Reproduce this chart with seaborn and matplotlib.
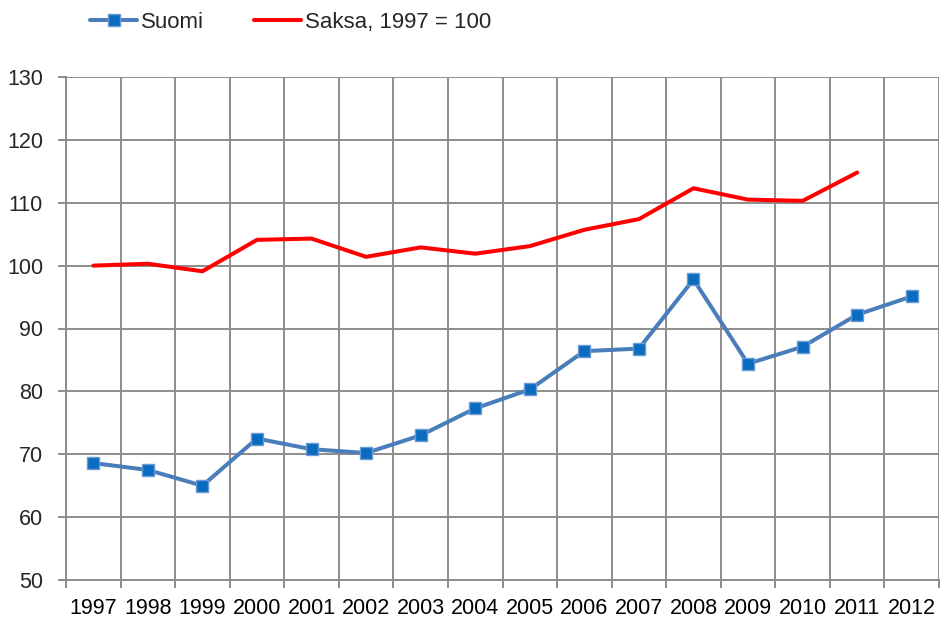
import numpy as np
import pandas as pd
import matplotlib
matplotlib.use("Agg")
import matplotlib.pyplot as plt
import seaborn as sns
from matplotlib.ticker import FixedLocator

# Data
years = [str(y) for y in range(1997, 2013)]
suomi = [68.6, 67.5, 65.0, 72.5, 70.8, 70.2, 73.0, 77.3, 80.3, 86.4, 86.8, 97.8, 84.4, 87.1, 92.2, 95.1]
saksa = [100.0, 100.3, 99.1, 104.1, 104.3, 101.4, 102.9, 101.9, 103.1, 105.7, 107.4, 112.3, 110.5, 110.3, 114.8]

sns.set_theme(style="white")
plt.rcParams['font.family'] = ['Liberation Sans', 'DejaVu Sans']

df_suomi = pd.DataFrame({'x': np.arange(len(suomi)), 'v': suomi})
df_saksa = pd.DataFrame({'x': np.arange(len(saksa)), 'v': saksa})

fig = plt.figure(figsize=(9.41, 6.21), dpi=100)
ax = fig.add_axes([66 / 941, 41 / 621, 873 / 941, 503 / 621])

grid_col = '#8c8c8c'

sns.lineplot(data=df_saksa, x='x', y='v', ax=ax, color='#ff0000', linewidth=2.9,
             label='Saksa, 1997 = 100', zorder=3)
sns.lineplot(data=df_suomi, x='x', y='v', ax=ax, color='#4a7ebb', linewidth=2.9,
             marker='s', markersize=8.5, markerfacecolor='#0a6cbf',
             markeredgecolor='#6a9ad6', markeredgewidth=1.0,
             label='Suomi', zorder=4)

ax.set_xlim(-0.5, len(years) - 0.5)
ax.set_ylim(50, 130)
ax.set_xlabel('')
ax.set_ylabel('')

ax.set_xticks(np.arange(len(years)))
ax.set_xticklabels(years)
ax.xaxis.set_minor_locator(FixedLocator(np.arange(-0.5, len(years), 1.0)))
ax.set_yticks(np.arange(50, 131, 10))

ax.tick_params(axis='x', which='major', length=0, labelsize=15.5, pad=13, colors='black')
ax.tick_params(axis='x', which='minor', length=6, width=1.4, color=grid_col, direction='out', bottom=True)
ax.tick_params(axis='y', which='major', length=6, width=1.4, color=grid_col, labelsize=15.5, pad=10.5, left=True)

ax.grid(True, which='minor', axis='x', color=grid_col, linewidth=1.4)
ax.grid(True, which='major', axis='y', color=grid_col, linewidth=1.4)
ax.set_axisbelow(True)

for s in ['top', 'right']:
    ax.spines[s].set_visible(False)
for s in ['left', 'bottom']:
    ax.spines[s].set_color(grid_col)
    ax.spines[s].set_linewidth(1.4)

handles, labels = ax.get_legend_handles_labels()
ax.legend().remove()
order = [1, 0]
fig.legend([handles[i] for i in order], [labels[i] for i in order],
           loc='upper left', bbox_to_anchor=(78 / 941, 1.0), ncol=2, frameon=False,
           fontsize=16, handlelength=2.1, handletextpad=0.18, columnspacing=2.25,
           borderaxespad=0.15)

fig.savefig('out.png', dpi=100)
